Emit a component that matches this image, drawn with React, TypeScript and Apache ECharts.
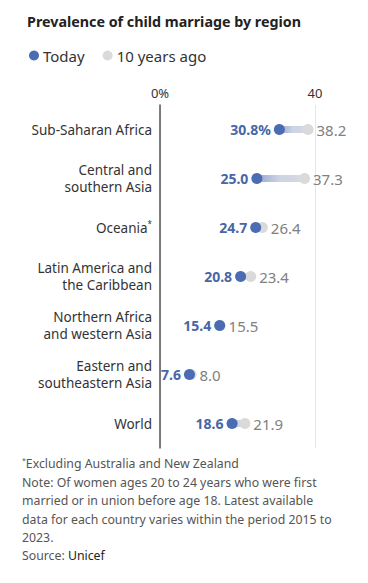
import React, { useEffect, useRef } from "react";
import * as echarts from "echarts";

const categories = [
  "Sub-Saharan Africa",
  "Central and\nsouthern Asia",
  "Oceania*",
  "Latin America and\nthe Caribbean",
  "Northern Africa\nand western Asia",
  "Eastern and\nsoutheastern Asia",
  "World",
];
const today = [30.8, 25.0, 24.7, 20.8, 15.4, 7.6, 18.6];
const tenYearsAgo = [38.2, 37.3, 26.4, 23.4, 15.5, 8.0, 21.9];
const xTicks = [0, 40];

const FONT = "Noto Sans";
const BLUE = "#4a6cb2";
const BLUE_TEXT = "#4767a6";
const GREY = "#dadada";

export default function App() {
  const ref = useRef<HTMLDivElement>(null);
  useEffect(() => {
    if (!ref.current) return;
    const chart = echarts.init(ref.current, null, { renderer: "svg" });
    const base = today.map((t, i) => Math.min(t, tenYearsAgo[i]));
    const diff = today.map((t, i) => Math.abs(tenYearsAgo[i] - t));
    const footLines = [
      "{sup|*}Excluding Australia and New Zealand",
      "Note: Of women ages 20 to 24 years who were first",
      "married or in union before age 18. Latest available",
      "data for each country varies within the period 2015 to",
      "2023.",
      "Source: {dark|Unicef}",
    ];
    const footY = [466, 485, 503, 522, 540, 558];
    chart.setOption({
      animation: false,
      title: {
        text: "Prevalence of child marriage by region",
        left: 22,
        top: 9,
        textStyle: { fontFamily: FONT, fontSize: 14.3, fontWeight: "bold", color: "#222" },
      },
      legend: {
        left: 24,
        top: 43,
        icon: "circle",
        itemWidth: 10,
        itemHeight: 10,
        itemGap: 18,
        data: [
          { name: "Today", itemStyle: { color: BLUE } },
          { name: "10 years ago", itemStyle: { color: GREY } },
        ],
        textStyle: { fontFamily: FONT, fontSize: 15, color: "#333", padding: [0, 0, 0, -1] },
      },
      grid: { left: 160, right: 53, top: 105, height: 343, containLabel: false },
      xAxis: {
        type: "value",
        position: "top",
        min: xTicks[0],
        max: xTicks[1],
        interval: xTicks[1] - xTicks[0],
        axisLine: { show: false },
        axisTick: { show: false },
        axisLabel: {
          margin: 6,
          fontFamily: FONT,
          fontSize: 13,
          color: "#333",
          formatter: (v: number) => (v === 0 ? "0%" : String(v)),
        },
        splitLine: { show: true, lineStyle: { color: "#e6e6e6", width: 1 } },
      },
      yAxis: {
        type: "category",
        inverse: true,
        data: categories,
        axisLine: { show: true, lineStyle: { color: "#555", width: 1.5 } },
        axisTick: { show: false },
        axisLabel: {
          margin: 8,
          fontFamily: FONT,
          fontSize: 13.5,
          lineHeight: 16.5,
          color: "#333",
          formatter: (v: string) =>
            v.endsWith("*") ? v.slice(0, -1) + "{sup|*}" : v,
          rich: {
            sup: { fontSize: 8, verticalAlign: "top", color: "#333", fontFamily: FONT, padding: [0, 0, 6, 0] },
          },
        },
      },
      series: [
        {
          type: "bar",
          stack: "r",
          data: base,
          barWidth: 7,
          itemStyle: { color: "transparent" },
          silent: true,
        },
        {
          type: "bar",
          stack: "r",
          data: diff,
          barWidth: 7,
          itemStyle: {
            color: new echarts.graphic.LinearGradient(0, 0, 1, 0, [
              { offset: 0, color: "rgba(110,135,190,0.75)" },
              { offset: 0.5, color: "rgba(175,185,210,0.6)" },
              { offset: 1, color: "rgba(222,222,222,1)" },
            ]),
          },
          silent: true,
        },
        {
          name: "10 years ago",
          type: "scatter",
          data: tenYearsAgo,
          symbolSize: 11,
          itemStyle: { color: GREY, opacity: 1 },
          z: 3,
          label: {
            show: true,
            position: "right",
            distance: 3,
            fontFamily: FONT,
            fontSize: 15,
            color: "#808080",
            formatter: (p: any) => p.value.toFixed(1),
          },
        },
        {
          name: "Today",
          type: "scatter",
          data: today,
          symbolSize: 11,
          itemStyle: { color: BLUE, opacity: 1 },
          z: 4,
          label: {
            show: true,
            position: "left",
            distance: 3,
            fontFamily: FONT,
            fontSize: 14,
            fontWeight: "bold",
            color: BLUE_TEXT,
            formatter: (p: any) => p.value.toFixed(1) + (p.dataIndex === 0 ? "%" : ""),
          },
        },
      ],
      graphic: footLines.map((t, i) => ({
        type: "text",
        left: 22,
        top: footY[i] - 9,
        style: {
          text: t,
          fontFamily: FONT,
          fontSize: 12.3,
          fill: "#555",
          rich: {
            sup: { fontSize: 7, fill: "#555", fontFamily: FONT, padding: [0, 0, 6, 0] },
            dark: { fontSize: 12.3, fill: "#222", fontFamily: FONT },
          },
        },
      })),
    });
    return () => chart.dispose();
  }, []);
  return <div ref={ref} style={{ width: 368, height: 583, margin: -8 }} />;
}
